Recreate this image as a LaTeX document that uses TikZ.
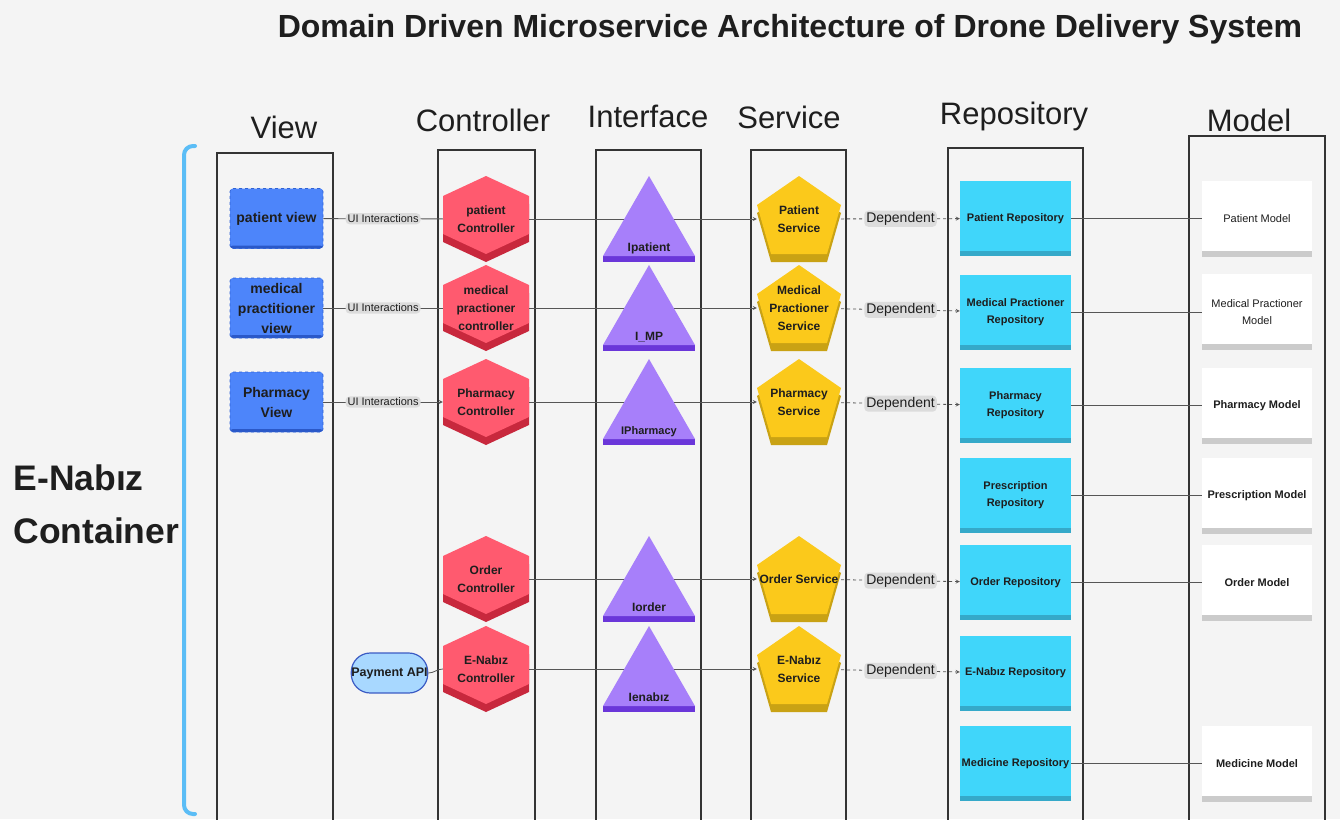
\documentclass[tikz,border=0pt]{standalone}
\usepackage{fontspec}
\setmainfont{Liberation Sans}
\usepackage{xcolor}

\definecolor{canvas}{HTML}{F4F4F4}
\definecolor{ink}{HTML}{1E1E1E}
\definecolor{laneline}{HTML}{333333}
\definecolor{wire}{HTML}{555555}
\definecolor{tag}{HTML}{DCDCDC}
\definecolor{bracecol}{HTML}{5BBDF6}
\definecolor{viewblue}{HTML}{4D85FA}
\definecolor{viewedge}{HTML}{2F62D6}
\definecolor{viewdark}{HTML}{2A58C8}
\definecolor{paybg}{HTML}{A8D8FF}
\definecolor{payedge}{HTML}{3B5BC4}
\definecolor{hexred}{HTML}{FF5A6F}
\definecolor{hexdark}{HTML}{C8283D}
\definecolor{trifill}{HTML}{A77FFA}
\definecolor{tridark}{HTML}{6A36D9}
\definecolor{pentfill}{HTML}{FBC91B}
\definecolor{pentdark}{HTML}{C9A214}
\definecolor{repofill}{HTML}{40D6FA}
\definecolor{repodark}{HTML}{35A9C9}
\definecolor{modelstrip}{HTML}{CBCBCB}

\tikzset{
  lane/.style={draw=laneline, line width=1.2pt},
  header/.style={anchor=base, font=\fontsize{31}{36}\selectfont, text=ink},
  viewbox/.style={minimum width=93pt, minimum height=60pt, inner sep=0pt, align=center,
    rounded corners=3pt, fill=viewblue, draw=viewedge, dashed, line width=0.7pt,
    font=\bfseries\fontsize{14}{20}\selectfont, text=ink,
    path picture={\fill[viewdark] (path picture bounding box.south west)
      rectangle ([yshift=3pt]path picture bounding box.south east);}},
  payapi/.style={minimum width=75pt, minimum height=40pt, inner sep=0pt, rounded corners=19pt,
    fill=paybg, draw=payedge, line width=1.2pt, font=\bfseries\fontsize{12.5}{14}\selectfont, text=ink},
  ctrlbox/.style={minimum width=86pt, minimum height=86pt, inner sep=0pt, align=center,
    font=\bfseries\fontsize{12}{18}\selectfont, text=ink,
    path picture={
      \fill[hexdark] ([yshift=-8pt]path picture bounding box.north)
        -- ([yshift=-28pt]path picture bounding box.north east)
        -- ([yshift=20pt]path picture bounding box.south east)
        -- (path picture bounding box.south)
        -- ([yshift=20pt]path picture bounding box.south west)
        -- ([yshift=-28pt]path picture bounding box.north west) -- cycle;
      \fill[hexred] (path picture bounding box.north)
        -- ([yshift=-20pt]path picture bounding box.north east)
        -- ([yshift=28pt]path picture bounding box.south east)
        -- ([yshift=8pt]path picture bounding box.south)
        -- ([yshift=28pt]path picture bounding box.south west)
        -- ([yshift=-20pt]path picture bounding box.north west) -- cycle;}},
  svcbox/.style={minimum width=84pt, minimum height=86pt, inner sep=0pt, align=center,
    font=\bfseries\fontsize{12}{18}\selectfont, text=ink,
    path picture={
      \fill[pentdark] ([yshift=-8pt]path picture bounding box.north)
        -- ([yshift=-37pt]path picture bounding box.north east)
        -- ([xshift=-14pt]path picture bounding box.south east)
        -- ([xshift=14pt]path picture bounding box.south west)
        -- ([yshift=-37pt]path picture bounding box.north west) -- cycle;
      \fill[pentfill] (path picture bounding box.north)
        -- ([yshift=-29pt]path picture bounding box.north east)
        -- ([xshift=-14pt,yshift=8pt]path picture bounding box.south east)
        -- ([xshift=14pt,yshift=8pt]path picture bounding box.south west)
        -- ([yshift=-29pt]path picture bounding box.north west) -- cycle;}},
  ifbox/.style={minimum width=92pt, minimum height=86pt, inner sep=0pt,
    text height=67pt, text depth=3pt, font=\bfseries\fontsize{12}{14}\selectfont, text=ink,
    path picture={
      \fill[tridark] (path picture bounding box.south west)
        rectangle ([yshift=6pt]path picture bounding box.south east);
      \fill[trifill] (path picture bounding box.north)
        -- ([yshift=6pt]path picture bounding box.south east)
        -- ([yshift=6pt]path picture bounding box.south west) -- cycle;}},
  repobox/.style={minimum width=111pt, minimum height=75pt, inner sep=0pt, align=center,
    fill=repofill, font=\bfseries\fontsize{11}{17}\selectfont, text=ink,
    path picture={\fill[repodark] (path picture bounding box.south west)
      rectangle ([yshift=5pt]path picture bounding box.south east);}},
  modelbox/.style={minimum width=110pt, minimum height=76pt, inner sep=0pt, align=center,
    fill=white, font=\fontsize{11}{17}\selectfont, text=ink,
    path picture={\fill[modelstrip] (path picture bounding box.south west)
      rectangle ([yshift=6pt]path picture bounding box.south east);}},
  modelbold/.style={modelbox, font=\bfseries\fontsize{11}{17}\selectfont},
  flow/.style={draw=wire, line width=0.8pt, >=stealth},
  dep/.style={flow, dashed, ->},
  uilabel/.style={fill=tag, rounded corners=4pt, inner xsep=2pt, inner ysep=1.5pt,
    font=\fontsize{11}{12}\selectfont, text=ink},
  deplabel/.style={uilabel, font=\fontsize{14}{15}\selectfont},
}

\begin{document}
\begin{tikzpicture}[x=1pt,y=-1pt]
\useasboundingbox (0,0) rectangle (1340,819);
\clip (0,0) rectangle (1340,819);
\fill[canvas] (0,0) rectangle (1340,819);

\node[anchor=base, font=\bfseries\fontsize{32}{36}\selectfont, text=ink] (title) at (790,37)
  {Domain Driven Microservice Architecture of Drone Delivery System};

% Lanes
\draw[lane] (217,153) rectangle (333,830);
\draw[lane] (438,150) rectangle (535,830);
\draw[lane] (596,150) rectangle (701,830);
\draw[lane] (751,150) rectangle (846,830);
\draw[lane] (948,148) rectangle (1083,830);
\draw[lane] (1189,136) rectangle (1325,830);

\node[header] (hview) at (284,138) {View};
\node[header] (hctrl) at (483,131) {Controller};
\node[header] (hif) at (648,127) {Interface};
\node[header] (hsvc) at (789,128) {Service};
\node[header] (hrepo) at (1014,124) {Repository};
\node[header] (hmodel) at (1249,131) {Model};

% Container brace
\draw[bracecol, line width=4pt, rounded corners=9pt, line cap=round]
  (195,146) -- (184,146) -- (184,814) -- (195,814);
\node[anchor=west, align=left, font=\bfseries\fontsize{35.5}{53}\selectfont, text=ink] (cont)
  at (10,504) {E-Nabız\\Container};

% View
\node[viewbox] (pv) at (276.5,218.5) {patient view};
\node[viewbox] (mv) at (276.5,308) {medical\\practitioner\\view};
\node[viewbox] (phv) at (276.5,402) {Pharmacy\\View};
\node[payapi] (pay) at (389.5,673) {Payment API};

% Controller
\node[ctrlbox] (pc) at (486,219) {patient\\Controller};
\node[ctrlbox] (mc) at (486,308) {medical\\practioner\\controller};
\node[ctrlbox] (phc) at (486,402) {Pharmacy\\Controller};
\node[ctrlbox] (oc) at (486,579) {Order\\Controller};
\node[ctrlbox] (ec) at (486,669) {E-Nabız\\Controller};

% Service
\node[svcbox] (ps) at (799,219) {Patient\\Service};
\node[svcbox] (ms) at (799,308) {Medical\\Practioner\\Service};
\node[svcbox] (phs) at (799,402) {Pharmacy\\Service};
\node[svcbox] (os) at (799,579) {Order Service};
\node[svcbox] (es) at (799,669) {E-Nabız\\Service};

% Repository
\node[repobox] (pr) at (1015.5,218.5) {Patient Repository};
\node[repobox] (mr) at (1015.5,312) {Medical Practioner\\Repository};
\node[repobox] (phr) at (1015.5,405.5) {Pharmacy\\Repository};
\node[repobox] (prr) at (1015.5,495.5) {Prescription\\Repository};
\node[repobox] (orr) at (1015.5,582.5) {Order Repository};
\node[repobox] (er) at (1015.5,673) {E-Nabız Repository};
\node[repobox] (mer) at (1015.5,763.5) {Medicine Repository};

% Model
\node[modelbox] (pm) at (1257,218.5) {Patient Model};
\node[modelbox] (mm) at (1257,312) {Medical Practioner\\Model};
\node[modelbold] (phm) at (1257,405.5) {Pharmacy Model};
\node[modelbold] (prm) at (1257,495.5) {Prescription Model};
\node[modelbold] (om) at (1257,582.5) {Order Model};
\node[modelbold] (mem) at (1257,763.5) {Medicine Model};

% View to controller
\draw[flow] (pv) -- node[uilabel] {UI Interactions} (pc);
\draw[flow] (mv) -- node[uilabel] {UI Interactions} (mc);
\draw[flow,->] (phv) -- node[uilabel] {UI Interactions} (phc);
\draw[flow] (pay.east) to[out=0,in=180] (ec.west);

% Controller to service
\draw[flow,->] (pc) -- (ps);
\draw[flow,->] (mc) -- (ms);
\draw[flow,->] (phc) -- (phs);
\draw[flow,->] (oc) -- (os);
\draw[flow,->] (ec) -- (es);

% Service to repository
\draw[dep] (ps) -- node[deplabel] {Dependent} (pr);
\draw[dep] (ms) -- node[deplabel] {Dependent} (mr);
\draw[dep] (phs) -- node[deplabel] {Dependent} (phr);
\draw[dep] (os) -- node[deplabel] {Dependent} (orr);
\draw[dep] (es) -- node[deplabel] {Dependent} (er);

% Repository to model
\draw[flow] (pr) -- (pm);
\draw[flow] (mr) -- (mm);
\draw[flow] (phr) -- (phm);
\draw[flow] (prr) -- (prm);
\draw[flow] (orr) -- (om);
\draw[flow] (mer) -- (mem);

% Interface (over the passing lines)
\node[ifbox] (ip) at (649,219) {Ipatient};
\node[ifbox] (imp) at (649,308) {I\_MP};
\node[ifbox, font=\bfseries\fontsize{11}{13}\selectfont] (iph) at (649,402) {IPharmacy};
\node[ifbox] (ior) at (649,579) {Iorder};
\node[ifbox] (ien) at (649,669) {Ienabız};
\end{tikzpicture}
\end{document}
